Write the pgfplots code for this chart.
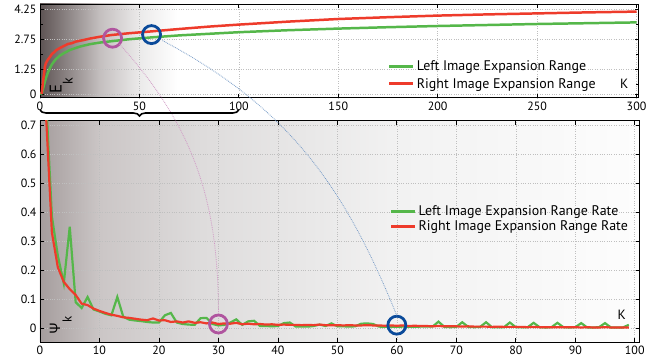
\documentclass[border=0pt]{standalone}
\usepackage{pgfplots}
\pgfplotsset{compat=1.18}
\usepackage{pgfplotstable}
\usepackage{fontspec}
\setmainfont{PT Sans}
\newfontfamily\gk{Noto Sans}
\usetikzlibrary{decorations.pathreplacing}

\definecolor{lgreen}{HTML}{55B74A}
\definecolor{lred}{HTML}{EE3B2B}
\definecolor{cpurple}{HTML}{B0559F}
\definecolor{cblue}{HTML}{0A4A9A}
\definecolor{tbg0}{HTML}{5E5454}
\definecolor{tbg1}{HTML}{C4BFBF}
\definecolor{tbg2}{HTML}{EBEAEA}
\definecolor{bbg0}{HTML}{A59D9D}
\definecolor{bbg1}{HTML}{CBC6C6}
\definecolor{bbg2}{HTML}{DEDCDC}
\definecolor{bbg3}{HTML}{F2F2F2}
\definecolor{bbg4}{HTML}{FDFDFD}

\pgfdeclarehorizontalshading{topbg}{100bp}{color(0bp)=(tbg0); color(25bp)=(tbg0); color(30bp)=(tbg1); color(33.3bp)=(tbg2); color(36.5bp)=(white); color(100bp)=(white)}
\pgfdeclarehorizontalshading{botbg}{100bp}{color(0bp)=(bbg0); color(25bp)=(bbg0); color(30bp)=(bbg1); color(38.5bp)=(bbg2); color(55bp)=(bbg3); color(75bp)=(bbg4); color(100bp)=(bbg4)}

\pgfplotstableread{
k v
0 0
1 0.05
2 0.45
3 0.8
4 1.08
5 1.3
6 1.48
7 1.62
8 1.74
10 1.92
12 2.04
15 2.2
20 2.37
25 2.49
30 2.57
36 2.64
45 2.74
56 2.83
70 2.93
85 3.01
100 3.09
125 3.19
150 3.27
175 3.34
200 3.40
225 3.45
250 3.50
275 3.54
300 3.58
}\topgreen

\pgfplotstableread{
k v
0.8 0
1 0.15
1.5 0.6
2 1.0
2.5 1.37
3 1.55
4 1.72
5 1.85
6 2.0
7 2.08
8 2.18
10 2.3
12 2.4
14 2.5
16 2.54
18 2.62
20 2.66
22 2.7
25 2.77
30 2.86
36 2.95
45 3.04
56 3.13
70 3.25
85 3.37
100 3.47
125 3.62
150 3.75
175 3.84
200 3.92
225 3.98
250 4.03
275 4.08
300 4.12
}\topred

\pgfplotstableread{
k v
1 0.80
2 0.385
3 0.25
4 0.155
5 0.35
6 0.09
7 0.07
8 0.108
9 0.065
10 0.058
11 0.05
12 0.045
13 0.108
14 0.04
15 0.03
16 0.027
17 0.025
18 0.022
19 0.02
20 0.02
21 0.045
22 0.053
23 0.02
24 0.015
25 0.013
26 0.012
27 0.035
28 0.036
29 0.015
30 0.01
31 0.012
32 0.02
33 0.031
34 0.012
35 0.024
36 0.026
37 0.008
38 0.008
39 0.007
40 0.008
41 0.018
42 0.02
43 0.006
44 0.006
45 0.006
46 0.008
47 0.013
48 0.008
49 0.017
50 0.007
51 0.007
52 0.006
53 0.007
54 0.016
55 0.017
56 0.015
57 0.006
58 0.005
59 0.005
60 0.005
61 0.006
62 0.005
63 0.005
64 0.006
65 0.006
66 0.006
67 0.023
68 0.005
69 0.004
70 0.005
71 0.021
72 0.005
73 0.004
74 0.005
75 0.021
76 0.004
77 0.004
78 0.004
79 0.02
80 0.004
81 0.004
82 0.004
83 0.019
84 0.004
85 0.003
86 0.004
87 0.019
88 0.004
89 0.003
90 0.004
91 0.018
92 0.003
93 0.003
94 0.004
95 0.018
96 0.003
97 0.003
98 0.003
99 0.012
}\botgreen

\pgfplotstableread{
k v
1 0.74
2 0.33
3 0.21
4 0.16
5 0.135
6 0.115
7 0.085
8 0.08
9 0.068
10 0.06
11 0.053
12 0.047
13 0.043
14 0.038
15 0.036
16 0.033
17 0.03
18 0.028
19 0.034
20 0.027
21 0.028
22 0.022
23 0.024
24 0.02
25 0.024
26 0.019
27 0.021
28 0.017
29 0.02
30 0.015
31 0.017
32 0.016
33 0.019
34 0.014
35 0.016
36 0.014
37 0.015
38 0.013
39 0.014
40 0.012
41 0.013
42 0.012
43 0.012
44 0.011
45 0.012
46 0.011
47 0.013
48 0.011
49 0.011
50 0.011
51 0.010
52 0.011
53 0.010
54 0.010
55 0.011
56 0.010
57 0.010
58 0.009
59 0.010
60 0.009
61 0.010
62 0.008
63 0.009
64 0.008
65 0.008
66 0.007
67 0.008
68 0.007
69 0.007
70 0.007
71 0.006
72 0.007
73 0.006
74 0.006
75 0.006
76 0.005
77 0.006
78 0.005
79 0.005
80 0.005
81 0.005
82 0.004
83 0.005
84 0.004
85 0.004
86 0.004
87 0.004
88 0.004
89 0.004
90 0.004
91 0.003
92 0.004
93 0.003
94 0.003
95 0.004
96 0.003
97 0.003
98 0.003
99 0.003
}\botred

\pgfplotsset{
  common/.style={
    scale only axis,
    anchor=south west,
    axis line style={line width=1pt},
    every tick/.style={black, line width=0.8pt},
    major tick length=4bp,
    minor tick length=3bp,
    grid=major,
    major grid style={dotted, gray!50, line width=0.6pt},
    tick label style={font=\fontsize{12}{13}\selectfont},
    /pgf/number format/assume math mode=true,
    yticklabel style={/pgf/number format/fixed},
    legend style={draw=none, fill=none, font=\fontsize{14}{15}\selectfont},
    legend cell align=left,
    legend image code/.code={\draw[#1, line width=3pt] (0bp,0bp) -- (24bp,0bp);},
  }
}

\begin{document}
\begin{tikzpicture}
\useasboundingbox (0,0) rectangle (668bp,360bp);

\begin{axis}[common,
  at={(40bp,262bp)}, width=598.5bp, height=94bp,
  xmin=0, xmax=301, ymin=-0.2, ymax=4.5,
  xtick={0,50,...,300},
  ytick={0,1.25,2.75,4.25},
  minor ytick={0.5,2,3.5},
  yticklabels={0,1.25,2.75,4.25},
  axis background/.style={shade, shading=topbg},
  legend style={at={(0.576,0.44)}, anchor=north west, row sep=2bp},
]
\addplot[lgreen, line width=2.5pt] table {\topgreen};
\addlegendentry{Left Image Expansion Range}
\addplot[lred, line width=2.5pt] table {\topred};
\addlegendentry{Right Image Expansion Range}
\addplot[only marks, mark=o, mark size=9bp, cpurple, line width=2.8pt, forget plot] coordinates {(36.5,2.79)};
\addplot[only marks, mark=o, mark size=9bp, cblue, line width=2.8pt, forget plot] coordinates {(56.1,2.97)};
\coordinate (tp) at (axis cs:36.5,2.79);
\coordinate (tb) at (axis cs:56.1,2.97);
\coordinate (b0) at (axis cs:0,-0.8);
\coordinate (b1) at (axis cs:100,-0.8);
\node[rotate=90, anchor=base west, inner sep=0pt, font=\fontsize{17}{17}\selectfont] at (axis cs:10.9,0) {E\raisebox{-11bp}{\fontsize{14}{14}\selectfont k}};
\node[font=\fontsize{13.5}{14}\selectfont] at (axis cs:293.8,0.5) {K};
\end{axis}

\begin{axis}[common,
  at={(40bp,18bp)}, width=599.5bp, height=221.3bp,
  xmin=0, xmax=100.8, ymin=-0.047, ymax=0.715,
  xtick={0,10,...,100},
  ytick={0,0.1,...,0.7},
  axis background/.style={shade, shading=botbg},
  legend style={at={(0.578,0.635)}, anchor=north west, row sep=0bp},
]
\addplot[lgreen, line width=2.2pt] table {\botgreen};
\addlegendentry{Left Image Expansion Range Rate}
\addplot[lred, line width=2.2pt] table {\botred};
\addlegendentry{Right Image Expansion Range Rate}
\addplot[only marks, mark=o, mark size=9bp, cpurple, line width=2.8pt, forget plot] coordinates {(30,0.015)};
\addplot[only marks, mark=o, mark size=9bp, cblue, line width=2.8pt, forget plot] coordinates {(60,0.011)};
\coordinate (bp) at (axis cs:30,0.015);
\coordinate (bb) at (axis cs:60,0.011);
\node[rotate=90, anchor=base west, inner sep=0pt, font=\fontsize{14.5}{14}\selectfont] at (axis cs:3.48,-0.023) {{\gk Ψ}\raisebox{-11bp}{\fontsize{13}{13}\selectfont k}};
\node[font=\fontsize{13.5}{14}\selectfont] at (axis cs:97.8,0.046) {K};
\end{axis}

\draw[cpurple!60, densely dotted, line width=0.8pt] ([shift={(7bp,-6bp)}]tp) to[out=-48, in=90] ([shift={(0bp,9.5bp)}]bp);
\draw[cblue!55, densely dotted, line width=0.8pt] ([shift={(11bp,-6bp)}]tb) to[out=-28, in=112] ([shift={(0bp,9.5bp)}]bb);
\draw[decorate, decoration={brace, mirror, amplitude=6bp}, line width=1.6pt] (b0) -- (b1);
\end{tikzpicture}
\end{document}
